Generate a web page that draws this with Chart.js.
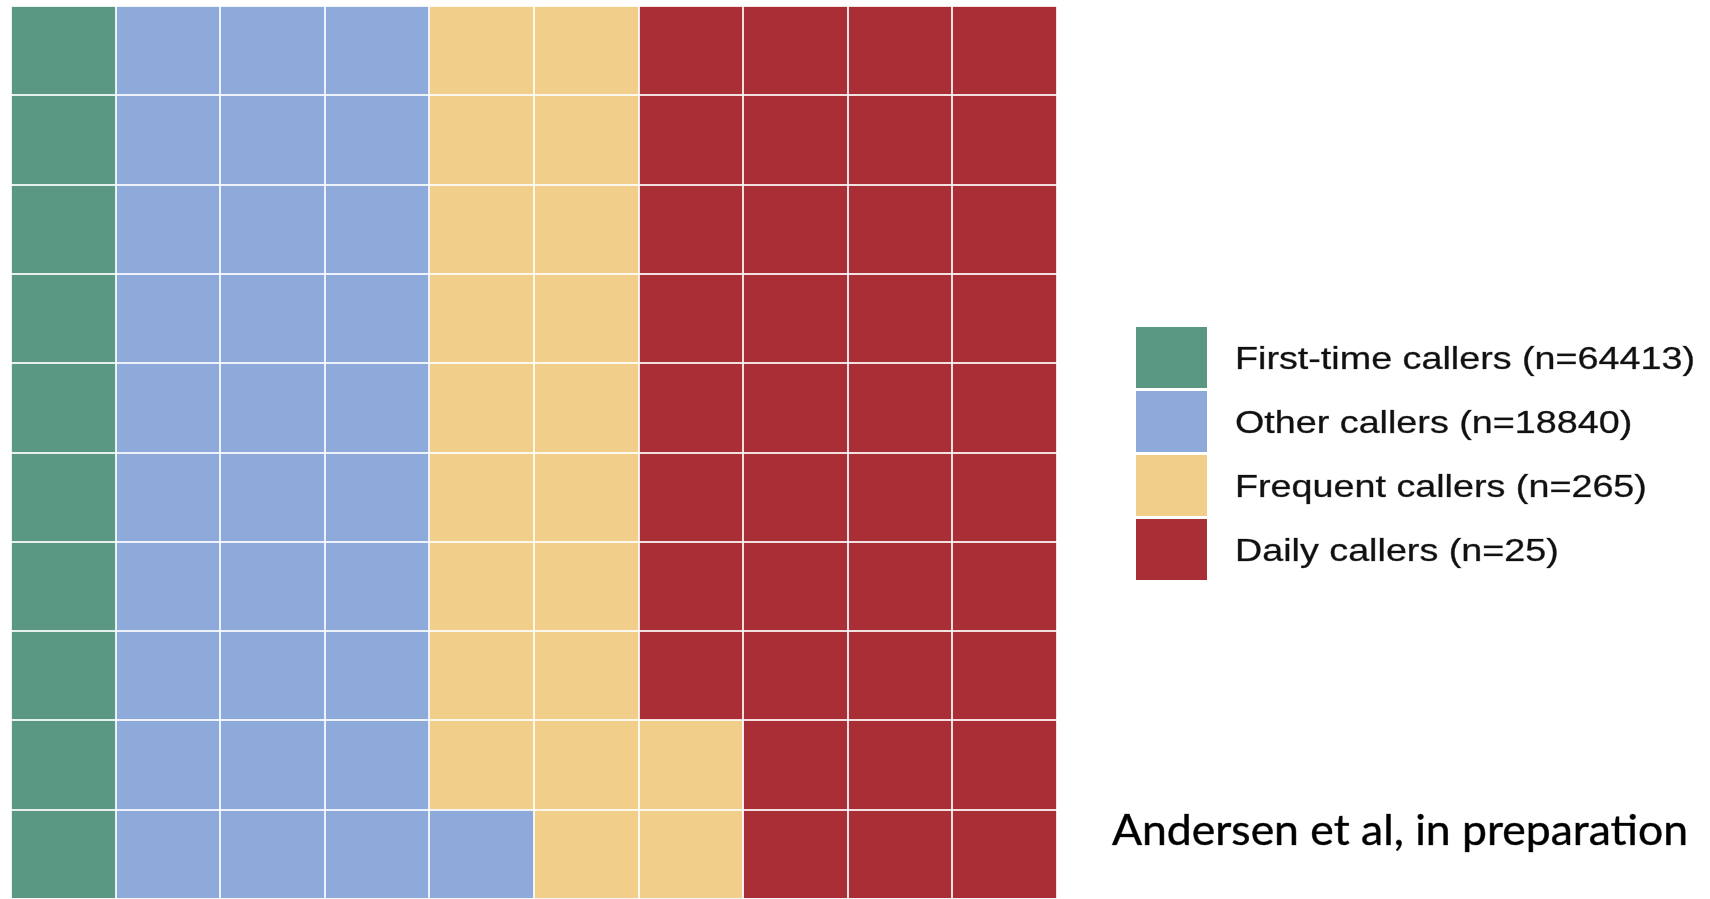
<!DOCTYPE html>
<html>
<head>
<meta charset="utf-8">
<title>Caller waffle</title>
<script src="https://cdn.jsdelivr.net/npm/chart.js@4"></script>
<style>
    html, body { margin: 0; padding: 0; background: #fff; overflow: hidden; }
    canvas { display: block; }
</style>
</head>
<body>
<canvas id="waffle" width="1710" height="899"></canvas>
<script>
// waffle columns, left to right; each value = number of cells of that group in the column
const columns = ["1", "2", "3", "4", "5", "6", "7", "8", "9", "10"];
const seriesLabels = [
    "First-time callers (n=64413)",
    "Other callers (n=18840)",
    "Frequent callers (n=265)",
    "Daily callers (n=25)"
];
const firstTime = [10, 0, 0, 0, 0, 0, 0, 0, 0, 0];
const other     = [0, 10, 10, 10, 1, 0, 0, 0, 0, 0];
const frequent  = [0, 0, 0, 0, 9, 10, 2, 0, 0, 0];
const daily     = [0, 0, 0, 0, 0, 0, 8, 10, 10, 10];
const colors = ["#5b9884", "#8eaadb", "#f1cf8b", "#a92e35"];
const citation = "Andersen et al, in preparation";

// legend + citation drawn by hand, text is stretched sideways like the original slide
const sideText = {
    id: "sideText",
    afterDraw(chart) {
        const ctx = chart.ctx;
        ctx.save();
        ctx.textBaseline = "alphabetic";
        ctx.font = "32px 'Liberation Sans', Arial, sans-serif";
        let sx = 460 / ctx.measureText(seriesLabels[0]).width;

        chart.data.datasets.forEach((ds, i) => {
            let top = 327 + i * 64;
            ctx.fillStyle = ds.backgroundColor;
            ctx.fillRect(1136, top, 71, 61);
            ctx.fillStyle = "#111";
            ctx.strokeStyle = "rgba(17,17,17,0.5)";
            ctx.lineWidth = 0.6;
            ctx.save();
            ctx.translate(1235, top + 42);
            ctx.scale(sx, 1);
            ctx.fillText(ds.label, 0, 0);
            ctx.strokeText(ds.label, 0, 0);
            ctx.restore();
        });

        ctx.fillStyle = "#000";
        ctx.font = "42px Lato, 'Open Sans', sans-serif";
        let cx = 576 / ctx.measureText(citation).width;
        ctx.translate(1112, 845);
        ctx.scale(cx, 1);
        ctx.fillText(citation, 0, 0);
        ctx.strokeStyle = "rgba(0,0,0,0.6)";
        ctx.lineWidth = 0.7;
        ctx.strokeText(citation, 0, 0);
        ctx.restore();
    }
};

function makeDataset(label, values, color) {
    return {
        label: label,
        data: values,
        backgroundColor: color,
        borderWidth: 0,
        barPercentage: 1,
        categoryPercentage: 1
    };
}

new Chart(document.getElementById("waffle"), {
    type: "bar",
    data: {
        labels: columns,
        datasets: [
            makeDataset(seriesLabels[0], firstTime, colors[0]),
            makeDataset(seriesLabels[1], other, colors[1]),
            makeDataset(seriesLabels[2], frequent, colors[2]),
            makeDataset(seriesLabels[3], daily, colors[3])
        ]
    },
    options: {
        responsive: false,
        animation: false,
        layout: { padding: { left: 11, top: 6, right: 653, bottom: 0 } },
        plugins: {
            legend: { display: false },
            tooltip: { enabled: false }
        },
        scales: {
            x: {
                stacked: true,
                grid: { color: "rgba(255,255,255,0.85)", lineWidth: 2, drawTicks: false, z: 1, offset: true },
                ticks: { display: false },
                border: { display: false }
            },
            y: {
                stacked: true,
                min: 0,
                max: 10,
                grid: { color: "rgba(255,255,255,0.85)", lineWidth: 2, drawTicks: false, z: 1 },
                ticks: { display: false, stepSize: 1 },
                border: { display: false }
            }
        }
    },
    plugins: [sideText]
});
</script>
</body>
</html>
